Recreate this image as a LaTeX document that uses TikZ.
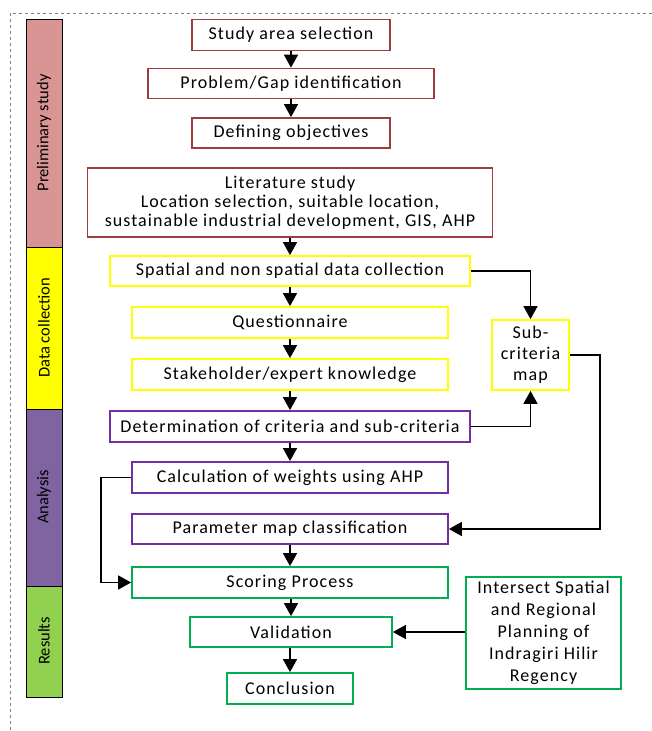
\documentclass[tikz,border=0pt]{standalone}
\usepackage{fontspec}
\setmainfont{Carlito}
\newfontfamily\boxfont[LetterSpace=6]{Carlito}
\usetikzlibrary{arrows.meta}
\definecolor{cred}{RGB}{160,60,60}
\definecolor{cyel}{RGB}{255,255,0}
\definecolor{cpur}{RGB}{112,48,160}
\definecolor{cgrn}{RGB}{0,176,80}
\definecolor{bpink}{RGB}{217,149,148}
\definecolor{bpur}{RGB}{128,100,162}
\definecolor{bgrn}{RGB}{146,208,80}
\tikzset{
  box/.style={draw, fill=white, line width=1.8pt, inner sep=0pt, align=center,
    font=\boxfont\fontsize{18}{20}\selectfont},
  rbox/.style={box, draw=cred},
  ybox/.style={box, draw=cyel},
  pbox/.style={box, draw=cpur},
  gbox/.style={box, draw=cgrn},
  arr/.style={line width=1.6pt, -{Triangle[width=14pt,length=13pt]}},
  bar/.style={draw=black, line width=0.8pt},
  bartext/.style={rotate=90, font=\fontsize{16.5}{18}\selectfont}
}
\begin{document}
\begin{tikzpicture}[x=1pt,y=-1pt]
\useasboundingbox (0,0) rectangle (652,731);
% dashed frame
\draw[gray, dashed, line width=0.8pt] (652,13) -- (10,13) -- (10,731);
% side bars
\draw[bar, fill=bpink] (26,19) rectangle (62,247);
\draw[bar, fill=cyel] (26,247) rectangle (62,409);
\draw[bar, fill=bpur] (26,409) rectangle (62,586);
\draw[bar, fill=bgrn] (26,586) rectangle (62,697);
\node[bartext] (lb1) at (44,133) {Preliminary study};
\node[bartext] (lb2) at (44,328) {Data collection};
\node[bartext] (lb3) at (44,497) {Analysis};
\node[bartext] (lb4) at (44,641) {Results};
% boxes
\node[rbox, minimum width=198pt, minimum height=31pt] (study) at (291,35) {Study area selection};
\node[rbox, minimum width=286pt, minimum height=30pt] (prob) at (291,83.5) {Problem/Gap identification};
\node[rbox, minimum width=198pt, minimum height=30pt] (obj) at (291,133) {Defining objectives};
\node[rbox, minimum width=405pt, minimum height=69pt, font=\boxfont\fontsize{18}{19}\selectfont] (lit) at (290,202.5) {Literature study\\Location selection, suitable location,\\sustainable industrial development, GIS, AHP};
\node[ybox, minimum width=360pt, minimum height=30pt] (spat) at (290,271) {Spatial and non spatial data collection};
\node[ybox, minimum width=316pt, minimum height=31pt] (quest) at (290,322.5) {Questionnaire};
\node[ybox, minimum width=316pt, minimum height=31pt] (stake) at (290,374.5) {Stakeholder/expert knowledge};
\node[pbox, minimum width=360pt, minimum height=31pt] (det) at (290,426.5) {Determination of criteria and sub-criteria};
\node[pbox, minimum width=316pt, minimum height=31pt] (calc) at (290,477.5) {Calculation of weights using AHP};
\node[pbox, minimum width=316pt, minimum height=30pt] (param) at (290,529) {Parameter map classification};
\node[gbox, minimum width=316pt, minimum height=31pt] (score) at (290,582.5) {Scoring Process};
\node[gbox, minimum width=202pt, minimum height=30pt] (valid) at (291,632) {Validation};
\node[gbox, minimum width=126pt, minimum height=31pt] (concl) at (290,688.5) {Conclusion};
\node[ybox, minimum width=77pt, minimum height=70pt, font=\boxfont\fontsize{18}{21}\selectfont] (sub) at (530.5,355) {Sub-\\criteria\\map};
\node[gbox, minimum width=155pt, minimum height=112pt, font=\boxfont\fontsize{18}{22}\selectfont] (inter) at (543.5,633) {Intersect Spatial\\and Regional\\Planning of\\Indragiri Hilir\\Regency};
% vertical arrows
\draw[arr] (study) -- (prob);
\draw[arr] (prob) -- (obj);
\draw[arr] (lit.south -| spat) -- (spat);
\draw[arr] (spat) -- (quest);
\draw[arr] (quest) -- (stake);
\draw[arr] (stake) -- (det);
\draw[arr] (det) -- (calc);
\draw[arr] (param) -- (score);
\draw[arr] (score.south -| valid) -- (valid);
\draw[arr] (valid.south -| concl) -- (concl);
% side connectors
\draw[arr] (spat.east) -| (sub.north);
\draw[arr] (det.east) -| (sub.south);
\coordinate (c1) at (600,355);
\coordinate (c2) at (600,529);
\draw[arr] (sub.east) -- (c1) -- (c2) -- (param.east);
\coordinate (c3) at (101,477.5);
\coordinate (c4) at (101,582.5);
\draw[arr] (calc.west) -- (c3) -- (c4) -- (score.west);
\draw[arr] (inter.west |- valid) -- (valid.east);
\end{tikzpicture}
\end{document}
